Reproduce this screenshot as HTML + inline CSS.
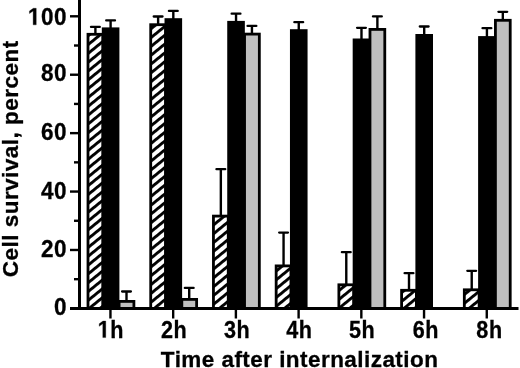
<!DOCTYPE html><html><head><meta charset="utf-8"><style>html,body{margin:0;padding:0;background:#fff;width:520px;height:368px;overflow:hidden}svg{display:block;filter:blur(0.3px)}text{font-family:"Liberation Sans",sans-serif;font-weight:bold;fill:#000;stroke:#000;stroke-width:0.3px}.g1{stroke:#000;stroke-width:27.306666666666665}</style></head><body>
<svg width="520" height="368" viewBox="0 0 520 368">
<defs><pattern id="h" patternUnits="userSpaceOnUse" width="6.845" height="10" patternTransform="translate(0,-0.29) rotate(50.9)"><rect width="6.845" height="10" fill="#fff"/><rect width="2.875" height="10" fill="#000"/></pattern></defs>
<line x1="95.40" y1="34.30" x2="95.40" y2="26.90" stroke="#000" stroke-width="2.4"/>
<line x1="91.00" y1="26.90" x2="99.80" y2="26.90" stroke="#000" stroke-width="2.3" stroke-linecap="round"/>
<rect x="88.00" y="34.30" width="14.80" height="274.10" fill="url(#h)" stroke="#000" stroke-width="2.8"/>
<line x1="110.60" y1="28.80" x2="110.60" y2="20.40" stroke="#000" stroke-width="2.4"/>
<line x1="106.20" y1="20.40" x2="115.00" y2="20.40" stroke="#000" stroke-width="2.3" stroke-linecap="round"/>
<rect x="103.20" y="28.80" width="14.80" height="279.60" fill="#000" stroke="#000" stroke-width="2.8"/>
<line x1="126.50" y1="301.40" x2="126.50" y2="291.50" stroke="#000" stroke-width="2.4"/>
<line x1="122.10" y1="291.50" x2="130.90" y2="291.50" stroke="#000" stroke-width="2.3" stroke-linecap="round"/>
<rect x="119.10" y="301.40" width="14.80" height="7.00" fill="#bfbfbf" stroke="#000" stroke-width="2.8"/>
<line x1="158.12" y1="24.70" x2="158.12" y2="16.50" stroke="#000" stroke-width="2.4"/>
<line x1="153.72" y1="16.50" x2="162.52" y2="16.50" stroke="#000" stroke-width="2.3" stroke-linecap="round"/>
<rect x="150.72" y="24.70" width="14.80" height="283.70" fill="url(#h)" stroke="#000" stroke-width="2.8"/>
<line x1="173.32" y1="19.60" x2="173.32" y2="10.90" stroke="#000" stroke-width="2.4"/>
<line x1="168.92" y1="10.90" x2="177.72" y2="10.90" stroke="#000" stroke-width="2.3" stroke-linecap="round"/>
<rect x="165.92" y="19.60" width="14.80" height="288.80" fill="#000" stroke="#000" stroke-width="2.8"/>
<line x1="189.22" y1="299.40" x2="189.22" y2="287.90" stroke="#000" stroke-width="2.4"/>
<line x1="184.82" y1="287.90" x2="193.62" y2="287.90" stroke="#000" stroke-width="2.3" stroke-linecap="round"/>
<rect x="181.82" y="299.40" width="14.80" height="9.00" fill="#bfbfbf" stroke="#000" stroke-width="2.8"/>
<line x1="220.84" y1="216.10" x2="220.84" y2="169.20" stroke="#000" stroke-width="2.4"/>
<line x1="216.44" y1="169.20" x2="225.24" y2="169.20" stroke="#000" stroke-width="2.3" stroke-linecap="round"/>
<rect x="213.44" y="216.10" width="14.80" height="92.30" fill="url(#h)" stroke="#000" stroke-width="2.8"/>
<line x1="236.04" y1="22.30" x2="236.04" y2="13.70" stroke="#000" stroke-width="2.4"/>
<line x1="231.64" y1="13.70" x2="240.44" y2="13.70" stroke="#000" stroke-width="2.3" stroke-linecap="round"/>
<rect x="228.64" y="22.30" width="14.80" height="286.10" fill="#000" stroke="#000" stroke-width="2.8"/>
<line x1="251.94" y1="34.10" x2="251.94" y2="25.90" stroke="#000" stroke-width="2.4"/>
<line x1="247.54" y1="25.90" x2="256.34" y2="25.90" stroke="#000" stroke-width="2.3" stroke-linecap="round"/>
<rect x="244.54" y="34.10" width="14.80" height="274.30" fill="#bfbfbf" stroke="#000" stroke-width="2.8"/>
<line x1="283.56" y1="265.90" x2="283.56" y2="232.60" stroke="#000" stroke-width="2.4"/>
<line x1="279.16" y1="232.60" x2="287.96" y2="232.60" stroke="#000" stroke-width="2.3" stroke-linecap="round"/>
<rect x="276.16" y="265.90" width="14.80" height="42.50" fill="url(#h)" stroke="#000" stroke-width="2.8"/>
<line x1="298.76" y1="30.60" x2="298.76" y2="22.20" stroke="#000" stroke-width="2.4"/>
<line x1="294.36" y1="22.20" x2="303.16" y2="22.20" stroke="#000" stroke-width="2.3" stroke-linecap="round"/>
<rect x="291.36" y="30.60" width="14.80" height="277.80" fill="#000" stroke="#000" stroke-width="2.8"/>
<line x1="346.28" y1="284.80" x2="346.28" y2="252.20" stroke="#000" stroke-width="2.4"/>
<line x1="341.88" y1="252.20" x2="350.68" y2="252.20" stroke="#000" stroke-width="2.3" stroke-linecap="round"/>
<rect x="338.88" y="284.80" width="14.80" height="23.60" fill="url(#h)" stroke="#000" stroke-width="2.8"/>
<line x1="361.48" y1="39.90" x2="361.48" y2="27.80" stroke="#000" stroke-width="2.4"/>
<line x1="357.08" y1="27.80" x2="365.88" y2="27.80" stroke="#000" stroke-width="2.3" stroke-linecap="round"/>
<rect x="354.08" y="39.90" width="14.80" height="268.50" fill="#000" stroke="#000" stroke-width="2.8"/>
<line x1="377.38" y1="29.40" x2="377.38" y2="16.40" stroke="#000" stroke-width="2.4"/>
<line x1="372.98" y1="16.40" x2="381.78" y2="16.40" stroke="#000" stroke-width="2.3" stroke-linecap="round"/>
<rect x="369.98" y="29.40" width="14.80" height="279.00" fill="#bfbfbf" stroke="#000" stroke-width="2.8"/>
<line x1="409.00" y1="290.30" x2="409.00" y2="273.20" stroke="#000" stroke-width="2.4"/>
<line x1="404.60" y1="273.20" x2="413.40" y2="273.20" stroke="#000" stroke-width="2.3" stroke-linecap="round"/>
<rect x="401.60" y="290.30" width="14.80" height="18.10" fill="url(#h)" stroke="#000" stroke-width="2.8"/>
<line x1="424.20" y1="35.40" x2="424.20" y2="26.50" stroke="#000" stroke-width="2.4"/>
<line x1="419.80" y1="26.50" x2="428.60" y2="26.50" stroke="#000" stroke-width="2.3" stroke-linecap="round"/>
<rect x="416.80" y="35.40" width="14.80" height="273.00" fill="#000" stroke="#000" stroke-width="2.8"/>
<line x1="471.72" y1="289.80" x2="471.72" y2="270.80" stroke="#000" stroke-width="2.4"/>
<line x1="467.32" y1="270.80" x2="476.12" y2="270.80" stroke="#000" stroke-width="2.3" stroke-linecap="round"/>
<rect x="464.32" y="289.80" width="14.80" height="18.60" fill="url(#h)" stroke="#000" stroke-width="2.8"/>
<line x1="486.92" y1="37.50" x2="486.92" y2="28.20" stroke="#000" stroke-width="2.4"/>
<line x1="482.52" y1="28.20" x2="491.32" y2="28.20" stroke="#000" stroke-width="2.3" stroke-linecap="round"/>
<rect x="479.52" y="37.50" width="14.80" height="270.90" fill="#000" stroke="#000" stroke-width="2.8"/>
<line x1="502.82" y1="20.30" x2="502.82" y2="11.80" stroke="#000" stroke-width="2.4"/>
<line x1="498.42" y1="11.80" x2="507.22" y2="11.80" stroke="#000" stroke-width="2.3" stroke-linecap="round"/>
<rect x="495.42" y="20.30" width="14.80" height="288.10" fill="#bfbfbf" stroke="#000" stroke-width="2.8"/>
<line x1="79.5" y1="0" x2="79.5" y2="309.9" stroke="#000" stroke-width="3.0"/>
<line x1="70" y1="308.4" x2="518.5" y2="308.4" stroke="#000" stroke-width="3.0"/>
<line x1="70" y1="308.40" x2="80" y2="308.40" stroke="#000" stroke-width="2.4"/>
<g transform="translate(0,306.95) scale(1,1.07) translate(0,-306.95)"><text x="53.99" y="314.85" font-size="22.5" letter-spacing="0.53">0</text></g>
<line x1="74" y1="279.19" x2="80" y2="279.19" stroke="#000" stroke-width="2.4"/>
<line x1="70" y1="249.98" x2="80" y2="249.98" stroke="#000" stroke-width="2.4"/>
<g transform="translate(0,249.03) scale(1,1.07) translate(0,-249.03)"><text x="40.94" y="256.93" font-size="22.5" letter-spacing="0.53">20</text></g>
<line x1="74" y1="220.77" x2="80" y2="220.77" stroke="#000" stroke-width="2.4"/>
<line x1="70" y1="191.56" x2="80" y2="191.56" stroke="#000" stroke-width="2.4"/>
<g transform="translate(0,190.71) scale(1,1.07) translate(0,-190.71)"><text x="40.94" y="198.61" font-size="22.5" letter-spacing="0.53">40</text></g>
<line x1="74" y1="162.35" x2="80" y2="162.35" stroke="#000" stroke-width="2.4"/>
<line x1="70" y1="133.14" x2="80" y2="133.14" stroke="#000" stroke-width="2.4"/>
<g transform="translate(0,131.39) scale(1,1.07) translate(0,-131.39)"><text x="40.94" y="139.29" font-size="22.5" letter-spacing="0.53">60</text></g>
<line x1="74" y1="103.93" x2="80" y2="103.93" stroke="#000" stroke-width="2.4"/>
<line x1="70" y1="74.72" x2="80" y2="74.72" stroke="#000" stroke-width="2.4"/>
<g transform="translate(0,72.62) scale(1,1.07) translate(0,-72.62)"><text x="40.94" y="80.52" font-size="22.5" letter-spacing="0.53">80</text></g>
<line x1="74" y1="45.51" x2="80" y2="45.51" stroke="#000" stroke-width="2.4"/>
<line x1="70" y1="16.30" x2="80" y2="16.30" stroke="#000" stroke-width="2.4"/>
<g transform="translate(0,16.40) scale(1,1.07) translate(0,-16.40)"><path class="g1" transform="translate(27.90,24.30) scale(0.010986,-0.010986)" d="M478 0L759 0L759 1409L493 1409L140 1180L140 959L478 1170Z"/><text x="40.94" y="24.30" font-size="22.5" letter-spacing="0.53">00</text></g>
<line x1="110.45" y1="308.4" x2="110.45" y2="318.5" stroke="#000" stroke-width="2.4"/>
<g transform="translate(110.60,337.6) scale(0.96,1.07) translate(-110.60,-337.6)"><path class="g1" transform="translate(97.21,337.60) scale(0.010986,-0.010986)" d="M478 0L759 0L759 1409L493 1409L140 1180L140 959L478 1170Z"/><text x="110.25" y="337.60" font-size="22.5" letter-spacing="0.53">h</text></g>
<line x1="173.17" y1="308.4" x2="173.17" y2="318.5" stroke="#000" stroke-width="2.4"/>
<g transform="translate(173.87,337.6) scale(0.96,1.07) translate(-173.87,-337.6)"><text x="160.48" y="337.60" font-size="22.5" letter-spacing="0.53">2h</text></g>
<line x1="235.89" y1="308.4" x2="235.89" y2="318.5" stroke="#000" stroke-width="2.4"/>
<g transform="translate(236.74,337.6) scale(0.96,1.07) translate(-236.74,-337.6)"><text x="223.35" y="337.60" font-size="22.5" letter-spacing="0.53">3h</text></g>
<line x1="298.61" y1="308.4" x2="298.61" y2="318.5" stroke="#000" stroke-width="2.4"/>
<g transform="translate(299.11,337.6) scale(0.96,1.07) translate(-299.11,-337.6)"><text x="285.72" y="337.60" font-size="22.5" letter-spacing="0.53">4h</text></g>
<line x1="361.33" y1="308.4" x2="361.33" y2="318.5" stroke="#000" stroke-width="2.4"/>
<g transform="translate(361.83,337.6) scale(0.96,1.07) translate(-361.83,-337.6)"><text x="348.44" y="337.60" font-size="22.5" letter-spacing="0.53">5h</text></g>
<line x1="424.05" y1="308.4" x2="424.05" y2="318.5" stroke="#000" stroke-width="2.4"/>
<g transform="translate(425.60,337.6) scale(0.96,1.07) translate(-425.60,-337.6)"><text x="412.21" y="337.60" font-size="22.5" letter-spacing="0.53">6h</text></g>
<line x1="486.77" y1="308.4" x2="486.77" y2="318.5" stroke="#000" stroke-width="2.4"/>
<g transform="translate(489.22,337.6) scale(0.96,1.07) translate(-489.22,-337.6)"><text x="475.83" y="337.60" font-size="22.5" letter-spacing="0.53">8h</text></g>
<g transform="translate(0,366.7) scale(1,1.02) translate(0,-366.7)"><text x="160.88" y="366.70" font-size="22.5" letter-spacing="0.45">Time after internalization</text></g>
<g transform="translate(17.8,159.0) rotate(-90) scale(1,1.02)"><text x="-118.22" y="0.00" font-size="22.5" letter-spacing="0.48">Cell survival, percent</text></g>
</svg></body></html>
